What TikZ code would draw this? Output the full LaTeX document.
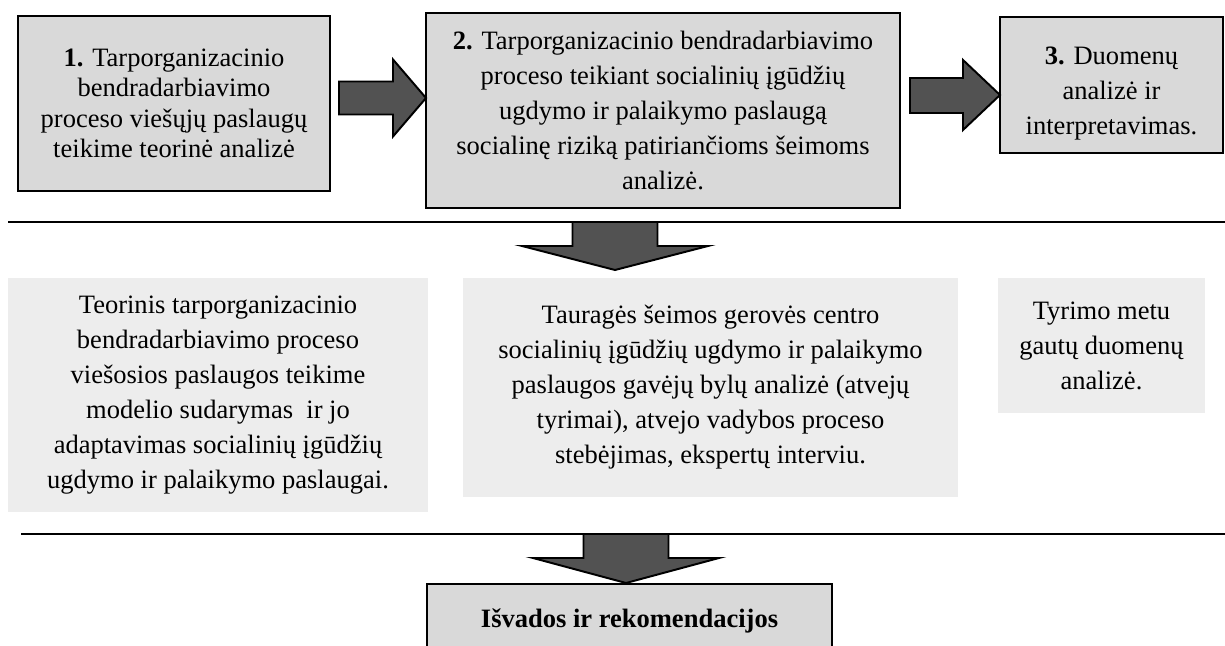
\documentclass[tikz,border=0pt]{standalone}
\usepackage{fontspec}
\setmainfont{Liberation Serif}
\usetikzlibrary{positioning,calc}

\definecolor{boxgrey}{HTML}{D9D9D9}
\definecolor{palegrey}{HTML}{EDEDED}
\definecolor{arrowgrey}{HTML}{525252}

\begin{document}
\begin{tikzpicture}[x=0.46pt, y=-0.46pt]
  \tikzstyle{stage} = [rectangle, draw, line width=1.3pt, fill=boxgrey, align=center, inner sep=0pt, font=\fontsize{12.2}{16.1}\selectfont]
  \tikzstyle{result} = [rectangle, fill=palegrey, align=center, inner sep=0pt, font=\fontsize{12.2}{16.1}\selectfont]
  \tikzstyle{bigarrow} = [draw, line width=0.9pt, fill=arrowgrey, line join=miter]
  \tikzstyle{rule} = [line width=1.3pt]

  \useasboundingbox (0,0) rectangle (1225,646);

  % top row: stages
  \node [stage, minimum width=312*0.46pt, minimum height=175*0.46pt, font=\fontsize{12.2}{14}\selectfont] (s1) at (174,103.5) {\textbf{1.} Tarporganizacinio\\ bendradarbiavimo\\ proceso viešųjų paslaugų\\ teikime teorinė analizė};
  \node [stage, minimum width=474*0.46pt, minimum height=195*0.46pt] (s2) at (663,110.5) {\textbf{2.} Tarporganizacinio bendradarbiavimo\\ proceso teikiant socialinių įgūdžių\\ ugdymo ir palaikymo paslaugą\\ socialinę riziką patiriančioms šeimoms\\ analizė.};
  \node [stage, minimum width=223*0.46pt, minimum height=136*0.46pt] (s3) at (1111.5,85) {};
  \node [align=center, inner sep=0pt, font=\fontsize{12.2}{16.1}\selectfont] (s3text) at ($(s3.center)+(0,9)$) {\textbf{3.} Duomenų\\ analizė ir\\ interpretavimas.};

  \draw [bigarrow] (339,81.5) -- (393,81.5) -- (393,59.5) -- (426,98) -- (393,136.5) -- (393,114.5) -- (339,114.5) -- cycle;
  \draw [bigarrow] (910,78) -- (963,78) -- (963,60) -- (1000,95) -- (963,130) -- (963,113) -- (910,113) -- cycle;

  \draw [rule] (8,222) -- (1225,222);
  \draw [bigarrow] (572.5,222) -- (572.5,246) -- (522,246) -- (615,270) -- (708,246) -- (657.5,246) -- (657.5,222) -- cycle;

  % middle row: results
  \node [result, minimum width=420*0.46pt, minimum height=234*0.46pt] (r1) at (218,395) {Teorinis tarporganizacinio\\ bendradarbiavimo proceso\\ viešosios paslaugos teikime\\ modelio sudarymas\ \ ir jo\\ adaptavimas socialinių įgūdžių\\ ugdymo ir palaikymo paslaugai.};
  \node [result, minimum width=495*0.46pt, minimum height=219*0.46pt] (r2) at (710.5,387.5) {Tauragės šeimos gerovės centro\\ socialinių įgūdžių ugdymo ir palaikymo\\ paslaugos gavėjų bylų analizė (atvejų\\ tyrimai), atvejo vadybos proceso\\ stebėjimas, ekspertų interviu.};
  \node [result, minimum width=207*0.46pt, minimum height=135*0.46pt] (r3) at (1101.5,345.5) {Tyrimo metu\\ gautų duomenų\\ analizė.};

  \draw [rule] (21,534) -- (1225,534);
  \draw [bigarrow] (583.5,534) -- (583.5,558) -- (533,558) -- (626,583) -- (719,558) -- (668.5,558) -- (668.5,534) -- cycle;

  % conclusions
  \node [stage, minimum width=405*0.46pt, minimum height=74*0.46pt, font=\fontsize{12.2}{16.1}\selectfont\bfseries] (s4) at (629.5,621) {Išvados ir rekomendacijos};
\end{tikzpicture}
\end{document}
